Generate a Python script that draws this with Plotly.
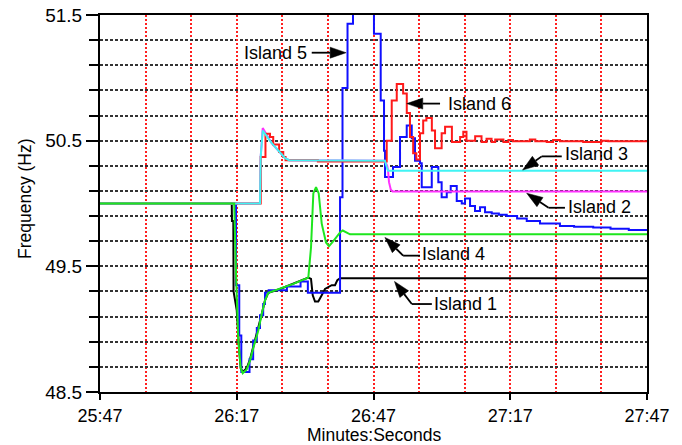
import math
import plotly.graph_objects as go

# ---------------- data (time in seconds after 25:47, frequency in Hz) ----------------
tick_seconds = [0, 30, 60, 90, 120]
tick_labels = ["25:47", "26:17", "26:47", "27:17", "27:47"]
freq_tick_values = [48.5, 49.5, 50.5, 51.5]
freq_tick_labels = ["48.5", "49.5", "50.5", "51.5"]
x_title = "Minutes:Seconds"
y_title = "Frequency (Hz)"

island1_t = [0, 28.9, 28.95, 29.25, 29.3, 30.0, 30.5, 30.87, 31.31, 32.19, 32.91, 33.63, 34.73,
             35.48, 36.2, 36.92, 39.49, 42.41, 45.7, 46.29, 46.67, 47.17, 47.89, 48.64, 49.36,
             50.83, 51.56, 52.07, 52.66, 120]
island1_f = [50.0, 50.0, 49.86, 49.86, 49.30, 49.15, 48.85, 48.69, 48.66, 48.69, 48.76, 48.86, 49.0,
             49.12, 49.23, 49.29, 49.32, 49.36, 49.41, 49.40, 49.27, 49.22, 49.22, 49.27, 49.32,
             49.35, 49.35, 49.39, 49.405, 49.405]

island2_t = [0, 35.1, 35.25, 35.7, 37.67, 39.12, 40.6, 41.5, 62.5, 63.0, 63.2, 63.4, 63.8, 64.2, 120]
island2_f = [50.0, 50.0, 50.37, 50.6, 50.48, 50.42, 50.36, 50.345, 50.34, 50.30, 50.26, 50.17,
             50.11, 50.095, 50.095]

island3_t = [0, 35.1, 35.25, 35.7, 37.67, 39.12, 40.6, 41.5, 62.5, 62.9, 63.2, 120]
island3_f = [50.0, 50.0, 50.37, 50.58, 50.48, 50.42, 50.36, 50.345, 50.34, 50.29, 50.26, 50.26]

island4_t = [0, 29.44, 29.84, 30.34, 30.87, 31.31, 32.19, 32.91, 33.63, 34.73, 35.48, 36.2, 36.92,
             39.49, 42.41, 45.7, 46.29, 46.8, 47.39, 47.98, 48.64, 49.58, 50.24, 51.19, 52.66,
             53.25, 54.85, 120]
island4_f = [50.0, 50.0, 49.44, 48.91, 48.69, 48.65, 48.68, 48.75, 48.85, 48.99, 49.12, 49.23, 49.29,
             49.32, 49.36, 49.41, 49.65, 50.08, 50.13, 50.08, 49.84, 49.69, 49.66, 49.70, 49.77,
             49.785, 49.755, 49.755]

# stepped record (value holds until next sample)
island5_t = [0, 29.84, 30.55, 31.0, 32.8, 33.6, 34.4, 35.1, 35.8, 36.2, 37.0, 41.0, 44.0, 45.6,
             52.66, 53.2, 54.3, 55.5, 60.1, 61.58, 62.31, 62.53, 64.28, 65.82, 67.29, 68.39,
             69.11, 70.21, 70.58, 72.78, 74.22, 74.95, 76.07, 76.94, 78.26, 79.36, 80.08, 81.18,
             82.27, 83.37, 84.47, 85.94, 87.5, 89.23, 91.5, 93.62, 96.53, 100.9, 104.0, 108.2,
             112.0, 116.0, 120]
island5_f = [50.0, 49.35, 48.95, 48.66, 48.76, 48.91, 49.01, 49.11, 49.2, 49.29, 49.31, 49.34,
             49.38, 49.29, 50.05, 50.92, 51.43, 51.8, 51.35, 50.82, 50.42, 50.21, 50.29, 50.53,
             50.62, 50.52, 50.34, 50.32, 50.13, 50.29, 50.17, 50.05, 50.09, 50.14, 50.02, 50.0,
             50.04, 49.98, 49.94, 49.97, 49.93, 49.92, 49.91, 49.90, 49.88, 49.86, 49.84, 49.82,
             49.815, 49.81, 49.80, 49.79, 49.785]

island6_t = [0, 35.26, 36.3, 37.3, 38.0, 39.3, 40.2, 40.7, 47.8, 62.9, 64.0, 65.1, 66.5, 67.3,
             68.0, 68.7, 69.4, 70.2, 70.9, 71.6, 72.8, 73.5, 74.95, 75.7, 77.2, 79.0, 79.7, 80.4,
             82.3, 83.7, 84.8, 85.9, 86.7, 88.5, 89.6, 90.6, 94.3, 95.5, 98.0, 99.4, 100.9,
             106.0, 110.0, 111.5, 120]
island6_f = [50.0, 50.37, 50.556, 50.53, 50.47, 50.41, 50.37, 50.345, 50.335, 50.5, 50.82, 50.95,
             50.875, 50.72, 50.53, 50.40, 50.35, 50.56, 50.66, 50.68, 50.58, 50.44, 50.56, 50.61,
             50.49, 50.53, 50.57, 50.50, 50.535, 50.49, 50.515, 50.49, 50.51, 50.49, 50.505,
             50.495, 50.51, 50.495, 50.49, 50.505, 50.495, 50.49, 50.5, 50.495, 50.495]

island_labels = ["Island 1", "Island 2", "Island 3", "Island 4", "Island 5", "Island 6"]

# ---------------- figure ----------------
FONT = "Liberation Sans, Arial, Helvetica, sans-serif"
W, H = 682, 445
ML, MR, MT, MB = 100, 35, 15, 53
X_RANGE = [0, 120]
Y_RANGE = [48.5, 51.5]
PLOT_W = W - ML - MR
PLOT_H = H - MT - MB
PX_X = PLOT_W / (X_RANGE[1] - X_RANGE[0])
PX_Y = PLOT_H / (Y_RANGE[1] - Y_RANGE[0])

fig = go.Figure()


def add_line(t, f, color, shape="linear", width=2.0):
    fig.add_trace(go.Scatter(x=t, y=f, mode="lines",
                             line=dict(color=color, width=width, shape=shape),
                             hoverinfo="skip", showlegend=False))


add_line(island1_t, island1_f, "#000000")
add_line(island5_t, island5_f, "#1010ff", shape="hv")
add_line(island2_t, island2_f, "#ff30ff")
add_line(island6_t, island6_f, "#ff1a1a", shape="hv")
add_line(island3_t, island3_f, "#40f4f4")
add_line(island4_t, island4_f, "#1ee61e")

shapes = []
annotations = []


def label(text, x, y):
    annotations.append(dict(x=x, y=y, xref="x", yref="y", text=text, showarrow=False,
                            xanchor="center", yanchor="middle",
                            font=dict(family=FONT, size=18, color="black")))


def arrow(tail, tip, bend=None):
    x0, y0 = tail if bend is None else bend
    if bend is not None:
        shapes.append(dict(type="line", xref="x", yref="y", x0=tail[0], y0=tail[1],
                           x1=bend[0], y1=bend[1], line=dict(color="black", width=1.8)))
    dx = (tip[0] - x0) * PX_X
    dy = -(tip[1] - y0) * PX_Y
    n = math.hypot(dx, dy)
    ux, uy = dx / n, dy / n
    L, Wd = 16.0, 5.5
    bx, by = -ux * L, -uy * L
    px, py = -uy * Wd, ux * Wd

    def to_data(ox, oy):
        return tip[0] + ox / PX_X, tip[1] - oy / PX_Y

    base = to_data(bx, by)
    c1 = to_data(bx + px, by + py)
    c2 = to_data(bx - px, by - py)
    shapes.append(dict(type="line", xref="x", yref="y", x0=x0, y0=y0,
                       x1=base[0], y1=base[1], line=dict(color="black", width=1.8)))
    shapes.append(dict(type="path", xref="x", yref="y",
                       path=f"M{tip[0]},{tip[1]} L{c1[0]},{c1[1]} L{c2[0]},{c2[1]} Z",
                       fillcolor="black", line=dict(color="black", width=0.5)))


label(island_labels[4], 38.5, 51.2)
arrow((46.45, 51.2), (54.0, 51.2))

label(island_labels[5], 83.15, 50.795)
arrow((74.6, 50.795), (67.3, 50.795))

label(island_labels[2], 109.0, 50.39)
arrow((101.3, 50.375), (92.7, 50.266), bend=(96.9, 50.375))

label(island_labels[1], 109.6, 49.976)
arrow((102.0, 49.966), (93.6, 50.082), bend=(98.4, 49.966))

label(island_labels[3], 77.5, 49.6)
arrow((70.2, 49.585), (62.5, 49.73), bend=(66.5, 49.585))

label(island_labels[0], 80.1, 49.2)
arrow((72.8, 49.2), (64.6, 49.38), bend=(68.4, 49.2))

# axis titles placed in paper coordinates (pixel offsets from the plot frame)
annotations.append(dict(text=x_title, xref="paper", yref="paper", x=0.5,
                        y=-(435 - (H - MB)) / PLOT_H, xanchor="center", yanchor="middle",
                        showarrow=False, font=dict(family=FONT, size=17.5, color="black")))
annotations.append(dict(text=y_title, xref="paper", yref="paper", x=(25 - ML) / PLOT_W,
                        y=((H - MB) - 199) / PLOT_H, xanchor="center", yanchor="middle",
                        textangle=-90, showarrow=False,
                        font=dict(family=FONT, size=17.5, color="black")))

fig.update_layout(
    width=W, height=H,
    margin=dict(l=ML, r=MR, t=MT, b=MB, pad=0),
    paper_bgcolor="white", plot_bgcolor="white",
    font=dict(family=FONT, color="black"),
    shapes=shapes, annotations=annotations,
    xaxis=dict(
        range=X_RANGE, tickmode="array", tickvals=tick_seconds, ticktext=tick_labels,
        showgrid=True, gridcolor="#ff2020", griddash="2px,2px", gridwidth=1.5,
        minor=dict(tick0=0, dtick=10, showgrid=True, gridcolor="#ff2020",
                   griddash="2px,2px", gridwidth=1.5, ticks=""),
        showline=True, linecolor="black", linewidth=2, mirror=True,
        ticks="outside", ticklen=6, tickwidth=2, tickcolor="black",
        tickfont=dict(family=FONT, size=18, color="black"),
        zeroline=False, automargin=False,
    ),
    yaxis=dict(
        range=Y_RANGE, tickmode="array", tickvals=freq_tick_values, ticktext=freq_tick_labels,
        showgrid=True, gridcolor="#333333", griddash="3px,2px", gridwidth=1.5,
        minor=dict(tick0=48.5, dtick=0.2, showgrid=True, gridcolor="#333333",
                   griddash="3px,2px", gridwidth=1.5, ticks="outside", ticklen=9,
                   tickwidth=2, tickcolor="black"),
        showline=True, linecolor="black", linewidth=2, mirror=True,
        ticks="outside", ticklen=12, tickwidth=2, tickcolor="black",
        tickfont=dict(family=FONT, size=19, color="black"),
        zeroline=False, automargin=False,
    ),
)

fig.write_html("out.html")
